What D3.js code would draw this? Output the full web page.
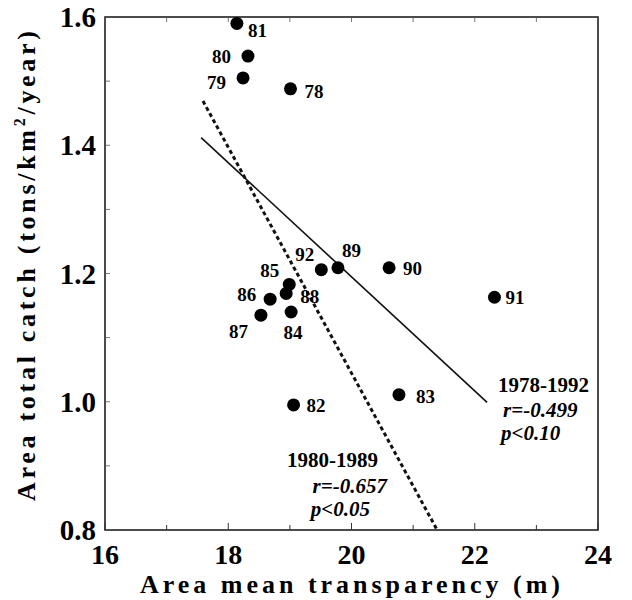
<!DOCTYPE html>
<html>
<head>
<meta charset="utf-8">
<script src="https://cdn.jsdelivr.net/npm/d3@7"></script>
<style>
  body { margin: 0; background: #fff; }
  text { font-family: "Liberation Serif", "Times New Roman", serif; }
</style>
</head>
<body>
<svg id="drawing_region"></svg>
<script>
// year labels, transparency (m), catch (tons/km2/year)
const years = ['78','79','80','81','82','83','84','85','86','87','88','89','90','91','92'];
const transparency = [19.01, 18.24, 18.32, 18.14, 19.06, 20.77, 19.02, 18.99, 18.68, 18.53, 18.94, 19.78, 20.61, 22.32, 19.51];
const catchValues = [1.488, 1.505, 1.539, 1.590, 0.995, 1.011, 1.140, 1.183, 1.160, 1.135, 1.169, 1.209, 1.209, 1.163, 1.206];
// label offsets (px) for each year
const labelDx = [14, -17, -17, 11, 13, 17, 2, -10, -14, -13, 14, 4, 14, 11, -7];
const labelDy = [9, 11, 7, 14, 7, 8, 27, -7, 2, 23, 10, -11, 7, 7, -9];
const labelAnchor = ['start','end','end','start','start','start','middle','end','end','end','start','start','start','start','end'];

const xTicks = [16, 18, 20, 22, 24];
const yTicks = [0.8, 1.0, 1.2, 1.4, 1.6];

// regression lines (end points)
const fitAll = [{x: 17.56, y: 1.412}, {x: 22.20, y: 0.999}];
const fit80s = [{x: 17.59, y: 1.469}, {x: 21.39, y: 0.8}];

let config = {
  width: 632, height: 600,
  margin: {top: 17, right: 34, bottom: 70, left: 105}
};

const svg = d3.select('#drawing_region')
  .attr('width', config.width)
  .attr('height', config.height);

const chart = svg.append('g')
  .attr('transform', `translate(${config.margin.left}, ${config.margin.top})`);

const w = config.width - config.margin.left - config.margin.right;
const h = config.height - config.margin.top - config.margin.bottom;

const x = d3.scaleLinear().domain([16, 24]).range([0, w]);
const y = d3.scaleLinear().domain([0.8, 1.6]).range([h, 0]);

// frame
chart.append('rect')
  .attr('width', w).attr('height', h)
  .attr('fill', 'none').attr('stroke', '#111').attr('stroke-width', 1.5);

// inward minor ticks on all sides
const xMinor = d3.range(16, 24.01, 1);
const yMinor = d3.range(0.8, 1.601, 0.1);
chart.selectAll('.xt').data(xMinor).enter().append('line')
  .attr('x1', d => x(d)).attr('x2', d => x(d))
  .attr('y1', h).attr('y2', d => h - (d % 2 === 0 ? 7 : 5))
  .attr('stroke', '#333').attr('stroke-width', 1);
chart.selectAll('.xtt').data(xMinor).enter().append('line')
  .attr('x1', d => x(d)).attr('x2', d => x(d))
  .attr('y1', 0).attr('y2', 5)
  .attr('stroke', '#555').attr('stroke-width', 0.8);
chart.selectAll('.yt').data(yMinor).enter().append('line')
  .attr('x1', 0).attr('x2', 5)
  .attr('y1', d => y(d)).attr('y2', d => y(d))
  .attr('stroke', '#555').attr('stroke-width', 0.8);

// tick labels
chart.selectAll('.xl').data(xTicks).enter().append('text')
  .attr('x', d => x(d)).attr('y', h + 34)
  .attr('text-anchor', 'middle')
  .attr('font-size', 28).attr('font-weight', 'bold')
  .text(d => d);
chart.selectAll('.yl').data(yTicks).enter().append('text')
  .attr('x', -9).attr('y', d => y(d) + 10)
  .attr('text-anchor', 'end')
  .attr('font-size', 29).attr('font-weight', 'bold')
  .text(d => d3.format('.1f')(d));

// axis titles
svg.append('text')
  .attr('x', 350).attr('y', 593)
  .attr('text-anchor', 'middle')
  .attr('font-size', 26).attr('font-weight', 'bold')
  .attr('textLength', 420).attr('lengthAdjust', 'spacing')
  .text('Area mean transparency (m)');

const yt = svg.append('text')
  .attr('transform', 'translate(35, 266) rotate(-90)')
  .attr('text-anchor', 'middle')
  .attr('font-size', 26).attr('font-weight', 'bold')
  .attr('textLength', 470).attr('lengthAdjust', 'spacing');
yt.append('tspan').text('Area total catch (tons/km');
yt.append('tspan').attr('dy', -10).attr('font-size', 16).text('2');
yt.append('tspan').attr('dy', 10).text('/year)');

// regression lines
const line = d3.line().x(d => x(d.x)).y(d => y(d.y));
chart.append('path').datum(fitAll)
  .attr('d', line).attr('stroke', '#111').attr('stroke-width', 1.6).attr('fill', 'none');
chart.append('path').datum(fit80s)
  .attr('d', line).attr('stroke', '#111').attr('stroke-width', 3)
  .attr('stroke-dasharray', '4,3').attr('fill', 'none');

// points
const pts = years.map((yr, i) => ({yr, tx: transparency[i], c: catchValues[i], dx: labelDx[i], dy: labelDy[i], a: labelAnchor[i]}));
chart.selectAll('circle').data(pts).enter().append('circle')
  .attr('cx', d => x(d.tx)).attr('cy', d => y(d.c)).attr('r', 6.5).attr('fill', '#000');
chart.selectAll('.pl').data(pts).enter().append('text')
  .attr('x', d => x(d.tx) + d.dx).attr('y', d => y(d.c) + d.dy)
  .attr('text-anchor', d => d.a)
  .attr('font-size', 19).attr('font-weight', 'bold')
  .text(d => d.yr);

// annotations
const notes = [
  {t: '1978-1992', x: 498, y: 392, it: false, a: 'start'},
  {t: 'r=-0.499', x: 503, y: 417, it: true, a: 'start'},
  {t: 'p<0.10', x: 501, y: 440, it: true, a: 'start'},
  {t: '1980-1989', x: 378, y: 467, it: false, a: 'end'},
  {t: 'r=-0.657', x: 387, y: 493, it: true, a: 'end'},
  {t: 'p<0.05', x: 370, y: 516, it: true, a: 'end'}
];
svg.selectAll('.note').data(notes).enter().append('text')
  .attr('x', d => d.x).attr('y', d => d.y)
  .attr('text-anchor', d => d.a)
  .attr('font-size', 21).attr('font-weight', 'bold')
  .attr('font-style', d => d.it ? 'italic' : 'normal')
  .text(d => d.t);
</script>
</body>
</html>
